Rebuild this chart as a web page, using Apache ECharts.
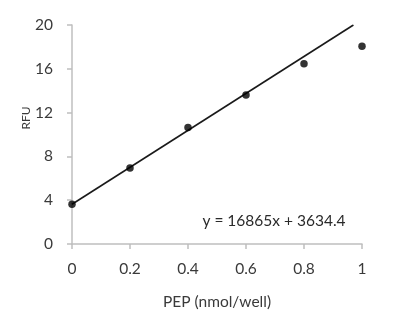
<!DOCTYPE html>
<html>
<head>
<meta charset="utf-8">
<script src="https://cdn.jsdelivr.net/npm/echarts@6/dist/echarts.min.js"></script>
<style>html,body{margin:0;padding:0;background:#fff;}#c{width:410px;height:324px;}</style>
</head>
<body>
<div id="c"></div>
<script>
var pepValues = [0, 0.2, 0.4, 0.6, 0.8, 1.0];
var rfuValues = [3.63, 6.95, 10.65, 13.6, 16.45, 18.05];
var trendX = [0, 0.9704];
var trendY = [3.6344, 20];
var xTicks = [0, 0.2, 0.4, 0.6, 0.8, 1];
var yTicks = [0, 4, 8, 12, 16, 20];
var equationText = 'y = 16865x + 3634.4';
var xTitle = 'PEP (nmol/well)';
var yTitle = 'RFU';

var chart = echarts.init(document.getElementById('c'));
var font = 'Lato';
var axisGray = '#bfbfbf';
var textCol = '#3a3a3a';
chart.setOption({
  animation: false,
  grid: {left: 72, top: 25, width: 290, height: 219, containLabel: false},
  xAxis: {
    type: 'value', min: xTicks[0], max: xTicks[xTicks.length - 1], interval: 0.2,
    splitLine: {show: false},
    axisLine: {show: true, lineStyle: {color: axisGray, width: 1.5}},
    axisTick: {show: true, length: 5, lineStyle: {color: axisGray, width: 1.5}},
    axisLabel: {margin: 17, fontFamily: font, fontSize: 15.5, color: textCol,
      formatter: function (v) { return String(Math.round(v * 10) / 10); }},
    name: xTitle, nameLocation: 'middle', nameGap: 50,
    nameTextStyle: {fontFamily: font, fontSize: 15.5, color: textCol}
  },
  yAxis: {
    type: 'value', min: yTicks[0], max: yTicks[yTicks.length - 1], interval: 4,
    splitLine: {show: false},
    axisLine: {show: true, lineStyle: {color: axisGray, width: 1.5}},
    axisTick: {show: true, length: 5, lineStyle: {color: axisGray, width: 1.5}},
    axisLabel: {margin: 19, fontFamily: font, fontSize: 15.5, color: textCol}
  },
  graphic: [
    {type: 'text', x: 26, y: 118, rotation: Math.PI / 2,
      style: {text: yTitle, fontFamily: font, fontSize: 12, fill: textCol, align: 'center', verticalAlign: 'middle'}},
    {type: 'text', x: 274, y: 221,
      style: {text: equationText, fontFamily: font, fontSize: 15.5, fill: '#2a2a2a', align: 'center', verticalAlign: 'middle'}}
  ],
  series: [
    {type: 'line', data: trendX.map(function (x, i) { return [x, trendY[i]]; }),
      showSymbol: false, lineStyle: {color: '#1a1a1a', width: 1.6}, silent: true, z: 2},
    {type: 'scatter', data: pepValues.map(function (x, i) { return [x, rfuValues[i]]; }),
      symbol: 'circle', symbolSize: 7.5, itemStyle: {color: '#000'}, z: 3}
  ]
});
</script>
</body>
</html>
